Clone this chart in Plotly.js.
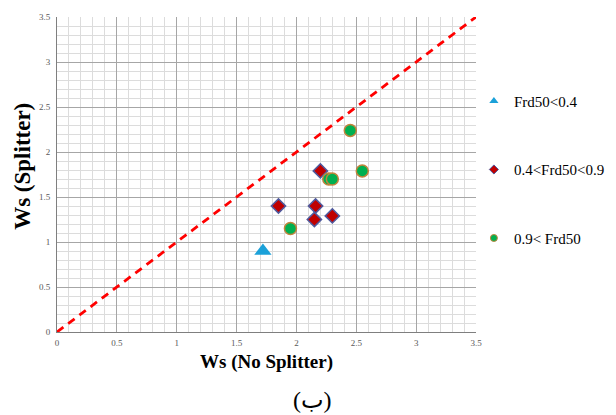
<!DOCTYPE html>
<html>
<head>
<meta charset="utf-8">
<script src="https://cdn.plot.ly/plotly-3.0.1.min.js"></script>
<style>html,body{margin:0;padding:0;background:#fff;}#chart{width:616px;height:415px;}</style>
</head>
<body>
<div id="chart"></div>
<script>
// Series: Frd50 < 0.4
const lowX = [1.72];
const lowY = [0.90];
// Series: 0.4 < Frd50 < 0.9
const midX = [2.20, 1.85, 2.16, 2.15, 2.30];
const midY = [1.79, 1.40, 1.40, 1.25, 1.29];
// Series: 0.9 < Frd50
const highX = [2.45, 2.55, 2.27, 2.30, 1.95];
const highY = [2.24, 1.79, 1.70, 1.70, 1.15];
// 1:1 reference line
const lineX = [0, 3.5];
const lineY = [0, 3.5];
const seriesNames = ['Frd50<0.4', '0.4<Frd50<0.9', '0.9< Frd50'];
const tickVals = [0, 0.5, 1, 1.5, 2, 2.5, 3, 3.5];
const tickText = ['0', '0.5', '1', '1.5', '2', '2.5', '3', '3.5'];

const serif = "'Liberation Serif', 'DejaVu Serif', 'Times New Roman', Times, serif";

const traces = [
  {x: lineX, y: lineY, mode: 'lines', showlegend: false, hoverinfo: 'skip',
   line: {color: '#FF0000', width: 2.8, dash: '8px,6px'}},
  {x: lowX, y: lowY, mode: 'markers', showlegend: false,
   marker: {symbol: 'triangle-up', size: 15, color: '#1BA1D9', line: {width: 0}}},
  {x: midX, y: midY, mode: 'markers', showlegend: false,
   marker: {symbol: 'diamond', size: 11, color: '#C00000', line: {color: '#4F5A9E', width: 1.5}}},
  {x: highX, y: highY, mode: 'markers', showlegend: false,
   marker: {symbol: 'circle', size: 12, color: '#00B050', line: {color: '#C0843C', width: 1.5}}},
  // legend entries (small symbols as in the reference legend)
  {x: [null], y: [null], mode: 'markers', name: seriesNames[0], legendgroup: 'a',
   marker: {symbol: 'triangle-up', size: 8, color: '#1BA1D9', line: {width: 0}}},
  {x: [null], y: [null], mode: 'markers', name: seriesNames[1], legendgroup: 'b',
   marker: {symbol: 'diamond', size: 7, color: '#C00000', line: {color: '#4F5A9E', width: 1}}},
  {x: [null], y: [null], mode: 'markers', name: seriesNames[2], legendgroup: 'c',
   marker: {symbol: 'circle', size: 7, color: '#00B050', line: {color: '#C0843C', width: 1}}}
];

const axisCommon = {
  range: [0, 3.5],
  autorange: false,
  tickmode: 'array',
  tickvals: tickVals,
  ticktext: tickText,
  showgrid: true,
  gridcolor: '#A6A6A6',
  gridwidth: 1,
  minor: {dtick: 0.1, showgrid: true, gridcolor: '#DCDCDC', gridwidth: 1, ticks: ''},
  zeroline: false,
  showline: true,
  linecolor: '#7F7F7F',
  linewidth: 1,
  ticks: '',
  tickfont: {family: serif, size: 9, color: '#595959'},
  fixedrange: true
};

const layout = {
  width: 616, height: 415,
  margin: {l: 57, r: 140, t: 17, b: 83, autoexpand: false},
  font: {family: serif, color: '#000'},
  paper_bgcolor: '#FFFFFF',
  plot_bgcolor: '#FFFFFF',
  showlegend: true,
  legend: {
    x: 0.995, xanchor: 'left', y: 0.785, yanchor: 'top',
    font: {family: serif, size: 15, color: '#000'},
    tracegroupgap: 46, itemwidth: 30, bgcolor: 'rgba(0,0,0,0)'
  },
  xaxis: Object.assign({}, axisCommon, {ticklabelstandoff: 2}),
  yaxis: Object.assign({}, axisCommon, {ticklabelstandoff: 4}),
  annotations: [
    {text: '<b>Ws (No Splitter)</b>', xref: 'paper', yref: 'paper', x: 0.5, y: -0.095,
     xanchor: 'center', yanchor: 'middle', showarrow: false,
     font: {family: serif, size: 19, color: '#000'}},
    {text: '<b>Ws (Splitter)</b>', xref: 'paper', yref: 'paper', x: -0.083, y: 0.525,
     xanchor: 'center', yanchor: 'middle', showarrow: false, textangle: -90,
     font: {family: serif, size: 23, color: '#000'}},
    {text: '(ب)', xref: 'paper', yref: 'paper', x: 0.61, y: -0.215,
     xanchor: 'center', yanchor: 'middle', showarrow: false,
     font: {family: "'Liberation Serif', 'DejaVu Sans', serif", size: 24, color: '#000'}}
  ]
};

Plotly.newPlot('chart', traces, layout, {displayModeBar: false, staticPlot: true});
</script>
</body>
</html>
